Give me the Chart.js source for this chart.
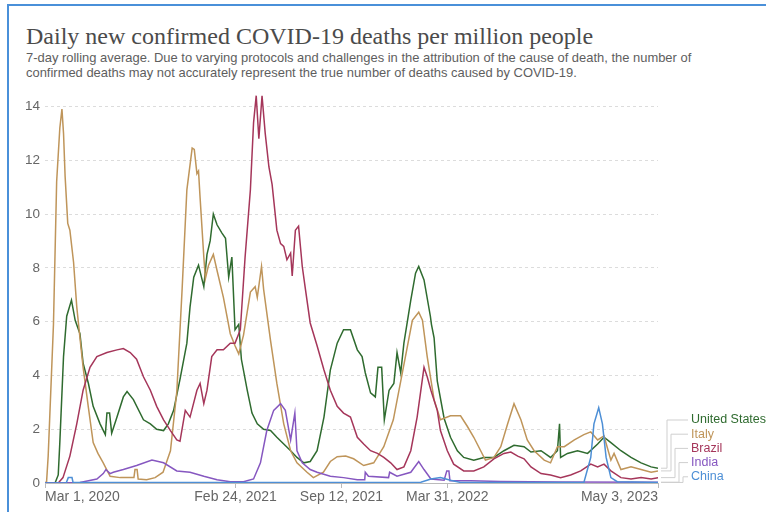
<!DOCTYPE html>
<html>
<head>
<meta charset="utf-8">
<script src="https://cdn.jsdelivr.net/npm/chart.js@4.4.0/dist/chart.umd.min.js"></script>
<style>
  body { margin: 0; background: #fff; }
  #wrap { position: relative; width: 766px; height: 512px; overflow: hidden; }
  #frame { position: absolute; left: 7px; top: 4px; width: 770px; height: 520px;
           border-left: 2px solid #4a90d9; border-top: 2px solid #4a90d9; }
  #title { position: absolute; left: 26px; top: 22px; font: 24px "Liberation Serif", serif;
           color: #4b4b4b; line-height: 28px; white-space: nowrap; }
  #subtitle { position: absolute; left: 26px; top: 50px; font: 12.95px "Liberation Sans", Arial, sans-serif;
              color: #5e5e5e; line-height: 15px; width: 720px; }
  canvas { position: absolute; left: 0; top: 0; }
</style>
</head>
<body>
<div id="wrap">
  <div id="frame"></div>
  <div id="title">Daily new confirmed COVID-19 deaths per million people</div>
  <div id="subtitle">7-day rolling average. Due to varying protocols and challenges in the attribution of the cause of death, the number of<br>confirmed deaths may not accurately represent the true number of deaths caused by COVID-19.</div>
  <canvas id="chart" width="766" height="512"></canvas>
</div>
<script>
// days since Mar 1, 2020 -> deaths per million (7-day avg)
const unitedStates = [
  [0,0],[19,0],[25,0.3],[28,1.5],[35,4.7],[41,6.2],[50,6.8],[57,6.05],[66,5.55],[72,4.45],[82,3.7],[91,2.85],
  [104,2.2],[114,1.8],[117,2.6],[122,2.6],[126,1.85],[136,2.45],[148,3.2],[155,3.4],[167,3.1],[186,2.35],
  [199,2.2],[211,2.0],[224,1.95],[233,2.2],[243,2.7],[255,3.85],[268,5.2],[274,6.55],[281,7.65],[290,8.1],
  [300,7.3],[306,8.5],[312,9.0],[318,10.0],[325,9.6],[334,9.3],[341,9.1],[347,7.65],[353,8.4],[359,5.7],
  [366,5.9],[371,4.6],[382,3.45],[391,2.6],[401,2.2],[413,2.0],[426,1.95],[438,1.7],[451,1.45],[464,1.2],
  [476,0.95],[489,0.75],[501,0.8],[514,1.2],[527,2.45],[539,4.2],[552,5.2],[564,5.7],[577,5.7],[590,4.95],
  [599,4.7],[605,4.1],[615,3.35],[624,3.2],[629,4.3],[636,4.3],[641,2.35],[650,3.45],[659,3.7],[665,4.85],
  [672,4.1],[678,5.2],[691,6.8],[700,7.8],[706,8.05],[716,7.55],[728,6.2],[730,5.9],[735,5.4],[741,3.8],
  [754,2.4],[766,1.7],[779,1.2],[791,0.95],[810,0.85],[829,0.95],[848,0.95],[867,1.2],[886,1.4],[905,1.35],
  [918,1.15],[937,1.2],[955,0.95],[968,1.2],[972,2.2],[974,0.95],[987,1.1],[1006,1.2],[1025,1.1],[1044,1.45],
  [1056,1.7],[1069,1.5],[1088,1.2],[1107,0.95],[1126,0.75],[1145,0.6],[1158,0.55]
];
const italy = [
  [0,0],[3,0.05],[6,1.0],[16,5.9],[22,11.2],[28,13.2],[32,13.9],[35,13.0],[38,11.4],[43,9.65],[47,9.4],
  [54,8.2],[60,6.55],[66,5.4],[72,4.3],[82,2.8],[91,1.5],[100,1.1],[110,0.75],[123,0.25],[142,0.2],[168,0.2],
  [170,0.5],[174,0.5],[176,0.15],[192,0.12],[208,0.2],[223,0.4],[237,1.2],[249,3.4],[259,7.2],[268,10.9],
  [278,12.45],[282,12.4],[287,11.5],[290,11.6],[293,10.6],[300,8.4],[303,7.6],[309,8.1],[318,8.5],[325,7.9],
  [337,6.9],[350,5.55],[359,5.1],[366,4.8],[375,5.5],[388,7.1],[397,7.3],[401,6.9],[409,8.05],[413,7.2],
  [426,5.3],[438,3.7],[451,2.2],[464,1.2],[476,0.75],[495,0.4],[507,0.2],[526,0.4],[539,0.8],[552,0.98],
  [568,1.0],[583,0.9],[602,0.65],[621,0.75],[640,1.35],[658,2.35],[677,4.3],[694,6.05],[706,6.35],[713,6.05],
  [722,4.7],[735,3.1],[747,2.35],[766,2.5],[785,2.5],[798,2.1],[810,1.7],[823,1.2],[832,0.85],[848,0.95],
  [861,1.35],[874,2.2],[886,2.95],[899,2.35],[911,1.6],[924,1.2],[943,0.85],[955,0.75],[968,1.35],[981,1.35],
  [1000,1.6],[1018,1.8],[1031,1.9],[1044,1.6],[1056,1.75],[1069,0.85],[1075,1.1],[1088,0.5],[1107,0.6],
  [1126,0.5],[1145,0.4],[1158,0.45]
];
const brazil = [
  [0,0],[25,0],[34,0.2],[47,1.0],[60,2.2],[72,3.45],[85,4.3],[98,4.7],[117,4.85],[136,4.95],[148,5.0],
  [161,4.85],[173,4.6],[186,3.95],[199,3.45],[211,2.85],[224,2.35],[237,1.95],[249,1.6],[255,1.55],[265,2.7],
  [274,2.45],[287,3.45],[293,3.7],[300,2.95],[306,3.45],[315,4.7],[325,4.95],[337,4.95],[350,5.2],[359,5.2],
  [369,5.7],[378,8.4],[388,10.9],[394,13.4],[399,14.4],[404,12.8],[410,14.4],[416,13.0],[423,11.75],[429,11.1],
  [438,9.4],[445,8.9],[451,8.8],[457,8.3],[464,8.55],[467,7.7],[473,9.4],[479,9.55],[486,8.05],[492,7.2],
  [501,5.95],[514,5.1],[527,4.2],[539,3.45],[552,2.85],[564,2.6],[577,2.45],[590,1.7],[602,1.45],[615,1.2],
  [628,1.1],[640,0.95],[653,0.75],[665,0.5],[678,0.6],[691,1.2],[703,2.45],[716,4.3],[722,3.95],[729,3.45],
  [741,2.7],[747,1.95],[760,1.2],[772,0.7],[791,0.45],[810,0.45],[829,0.6],[848,0.9],[867,1.1],[880,1.15],
  [893,1.0],[905,0.9],[918,0.6],[937,0.35],[955,0.3],[974,0.2],[993,0.3],[1012,0.45],[1031,0.7],[1044,0.6],
  [1056,0.7],[1069,0.45],[1088,0.2],[1107,0.15],[1126,0.2],[1145,0.15],[1158,0.2]
];
const india = [
  [0,0],[66,0.02],[98,0.15],[110,0.35],[115,0.5],[123,0.35],[129,0.4],[148,0.5],[173,0.65],[202,0.85],
  [224,0.75],[249,0.45],[274,0.4],[300,0.25],[325,0.12],[350,0.05],[375,0.05],[394,0.15],[407,0.75],
  [419,1.95],[432,2.7],[445,2.95],[454,2.7],[464,1.6],[472,2.6],[476,1.2],[486,0.75],[501,0.5],[514,0.4],
  [539,0.25],[564,0.2],[590,0.12],[604,0.12],[605,0.4],[611,0.25],[649,0.2],[651,0.4],[665,0.25],[691,0.4],
  [706,0.8],[716,0.5],[729,0.15],[754,0.1],[759,0.45],[763,0.45],[765,0.08],[804,0.08],[861,0.06],
  [974,0.04],[1158,0.03]
];
const china = [
  [0,0],[40,0],[44,0.2],[51,0.2],[53,0.02],[369,0.02],[710,0.03],[729,0.15],[747,0.2],[766,0.1],[785,0.02],
  [1018,0.02],[1031,0.95],[1037,2.2],[1046,2.8],[1053,2.2],[1060,0.95],[1069,0.2],[1081,0.05],[1158,0.02]
];

const seriesNames = ["United States", "Italy", "Brazil", "India", "China"];
const seriesColors = ["#2f6b2f", "#bf955a", "#a5365a", "#8657c0", "#4d8fd6"];
const xTickDays = [0, 360, 560, 760, 1158];
const xTickLabels = ["Mar 1, 2020", "Feb 24, 2021", "Sep 12, 2021", "Mar 31, 2022", "May 3, 2023"];
const yTicks = [0, 2, 4, 6, 8, 10, 12, 14];

const allSeries = [unitedStates, italy, brazil, india, china];

const datasets = allSeries.map((s, i) => ({
  label: seriesNames[i],
  data: s.map(p => ({ x: p[0], y: p[1] })),
  borderColor: seriesColors[i],
  borderWidth: 1.5,
  pointRadius: 0,
  tension: 0,
  fill: false
}));
// draw China first so it sits under the others like in the picture
const drawOrder = datasets.slice().reverse();

const sans = '"Liberation Sans", Arial, sans-serif';

// x labels: first left aligned, last right aligned
const xLabelPlugin = {
  id: 'xLabels',
  afterDraw(chart) {
    const ctx = chart.ctx;
    const xs = chart.scales.x;
    ctx.save();
    ctx.font = '14px ' + sans;
    ctx.fillStyle = '#666';
    ctx.textBaseline = 'middle';
    xTickDays.forEach((d, i) => {
      const px = xs.getPixelForValue(d);
      ctx.textAlign = i === 0 ? 'left' : (i === xTickDays.length - 1 ? 'right' : 'center');
      ctx.fillText(xTickLabels[i], px, 497);
    });
    ctx.restore();
  }
};

// labels on the right with elbow connectors
const endLabelPlugin = {
  id: 'endLabels',
  afterDraw(chart) {
    const ctx = chart.ctx;
    const xs = chart.scales.x, ys = chart.scales.y;
    ctx.save();
    ctx.font = '12.5px ' + sans;
    ctx.textBaseline = 'middle';
    ctx.textAlign = 'left';
    allSeries.forEach((s, i) => {
      const last = s[s.length - 1];
      const x0 = xs.getPixelForValue(last[0]) + 3;
      const y0 = ys.getPixelForValue(last[1]);
      const ly = 420 + i * 14.2;
      const ex = 667 + i * 4;
      ctx.strokeStyle = '#cfcfcf';
      ctx.lineWidth = 1;
      ctx.beginPath();
      ctx.moveTo(x0, y0);
      ctx.lineTo(ex, y0);
      ctx.lineTo(ex, ly);
      ctx.lineTo(688, ly);
      ctx.stroke();
      ctx.fillStyle = seriesColors[i];
      ctx.fillText(seriesNames[i], 691, ly);
    });
    ctx.restore();
  }
};

new Chart(document.getElementById('chart'), {
  type: 'line',
  data: { datasets: drawOrder },
  options: {
    responsive: false,
    animation: false,
    devicePixelRatio: 1,
    layout: { padding: { top: 93, right: 108, left: 0, bottom: 0 } },
    plugins: { legend: { display: false }, tooltip: { enabled: false } },
    scales: {
      x: {
        type: 'linear',
        min: 0,
        max: 1158,
        afterBuildTicks: s => { s.ticks = xTickDays.map(v => ({ value: v })); },
        afterFit: s => { s.height = 29; },
        ticks: { display: false },
        grid: { drawOnChartArea: false, drawTicks: true, tickLength: 5, color: '#bbb' },
        border: { display: true, color: '#bbb' }
      },
      y: {
        min: 0,
        max: 14.5,
        afterBuildTicks: s => { s.ticks = yTicks.map(v => ({ value: v })); },
        afterFit: s => { s.width = 45; },
        ticks: { padding: 5, color: '#666', font: { family: sans, size: 13.5 } },
        grid: { color: '#dcdcdc', drawTicks: false },
        border: { display: false, dash: [3, 3] }
      }
    }
  },
  plugins: [xLabelPlugin, endLabelPlugin]
});
</script>
</body>
</html>
